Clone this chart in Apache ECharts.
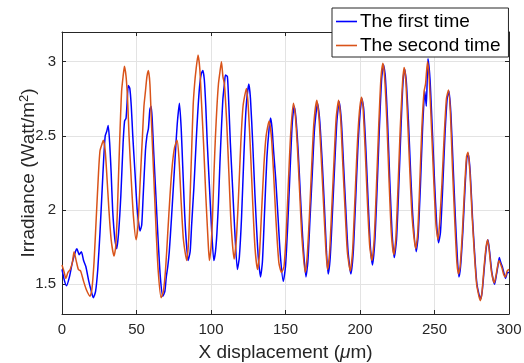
<!DOCTYPE html>
<html>
<head>
<meta charset="utf-8">
<script src="https://cdn.jsdelivr.net/npm/echarts@6/dist/echarts.min.js"></script>
<style>html,body{margin:0;padding:0;background:#fff}#c{width:524px;height:363px}</style>
</head>
<body>
<div id="c"></div>
<script>
const seriesNames = ['The first time', 'The second time'];
const xTicks = [0, 50, 100, 150, 200, 250, 300];
const yTicks = [1.5, 2, 2.5, 3];

const firstTime = [
[0,1.60],[1.5,1.53],[3,1.49],[5,1.55],[7,1.65],[9,1.72],[10,1.74],[11.5,1.70],[13,1.72],[14.5,1.66],[16,1.62],[18,1.52],[19.5,1.46],[21,1.41],[22.5,1.45],[24,1.60],[25.5,1.85],[27,2.15],[28,2.35],[29,2.50],[30,2.53],[31,2.57],[32,2.45],[33,2.25],[34,2.00],[35.5,1.80],[36.7,1.74],[38,1.85],[39.5,2.10],[41,2.45],[42,2.60],[43,2.62],[44,2.78],[44.5,2.84],[45.5,2.82],[46.5,2.70],[47.5,2.50],[49,2.25],[50.5,2.00],[52.4,1.86],[53.5,1.90],[54.5,2.10],[56,2.40],[57,2.50],[58,2.55],[59,2.68],[59.8,2.70],[60.5,2.62],[61.5,2.40],[63,2.10],[64.5,1.80],[66,1.55],[67.6,1.42],[69,1.45],[70,1.55],[71,1.62],[72,1.72],[73.5,1.95],[75,2.20],[76.5,2.45],[77.5,2.60],[78.8,2.72],[80,2.55],[81,2.30],[82,2.05],[83,1.85],[84.6,1.66],[86,1.72],[87,1.90],[88.5,2.15],[89.5,2.35],[90.5,2.55],[91.5,2.72],[92.5,2.85],[93.5,2.92],[94.5,2.94],[95.5,2.88],[96.5,2.70],[97.5,2.45],[99,2.15],[100.5,1.85],[101.9,1.66],[103,1.72],[104,1.85],[105,2.05],[106,2.32],[107,2.55],[108,2.75],[109,2.85],[109.7,2.91],[111,2.90],[112,2.70],[113,2.45],[114.5,2.15],[116,1.85],[117.7,1.60],[119,1.68],[120.5,1.95],[122,2.35],[123.5,2.68],[125.4,2.85],[126.5,2.75],[128,2.45],[129.5,2.10],[131,1.80],[132,1.65],[133.2,1.55],[134.5,1.65],[136,2.00],[137.5,2.35],[139,2.55],[140,2.62],[141,2.55],[142,2.40],[143.5,2.20],[145,1.95],[146.5,1.70],[148.5,1.52],
[150,1.62],[151.5,1.90],[153,2.25],[154.5,2.58],[155.8,2.70],[157,2.62],[158.5,2.40],[160,2.10],[161.5,1.82],[163.7,1.55],[165,1.65],[166.5,1.95],[168,2.25],[169.5,2.55],[171.5,2.72],[173,2.60],[174.5,2.35],[176,2.05],[177.5,1.72],[178.6,1.57],[180,1.68],[181.5,1.98],[183,2.30],[184.5,2.60],[186,2.73],[187.5,2.60],[189,2.30],[190.5,2.00],[192,1.72],[193.9,1.57],[195.5,1.72],[197,2.05],[198.5,2.40],[200,2.65],[201.3,2.75],[202.5,2.68],[204,2.40],[205.5,2.05],[207,1.75],[208.4,1.63],[210,1.80],[211.5,2.15],[213,2.55],[214.5,2.88],[215.8,2.98],[217,2.90],[218.5,2.60],[220,2.20],[221.5,1.85],[223,1.68],[224.5,1.80],[226,2.15],[227.5,2.55],[228.8,2.85],[229.9,2.95],[231,2.88],[232.5,2.60],[234,2.25],[235.5,1.95],[237.7,1.72],[239,1.82],[240.5,2.15],[242,2.55],[243.5,2.80],[244.5,2.70],[245.6,3.02],[247,2.88],[248.5,2.55],[250,2.20],[251.5,1.90],[252.7,1.78],[254,1.85],[255.5,2.15],[257,2.50],[258.5,2.75],[259.7,2.80],[261,2.65],[262.5,2.30],[264,1.95],[265.5,1.65],[266.4,1.55],[267.5,1.62],[269,1.85],[270.5,2.15],[271.7,2.35],[272.7,2.38],[274,2.25],[275.5,1.95],[277,1.70],[278.5,1.50],[280.9,1.40],[282,1.45],[283.5,1.62],[284.8,1.75],[285.9,1.80],[287,1.72],[288.5,1.58],[290.3,1.50],[291.5,1.56],[292.5,1.62],[293.5,1.68],[294.4,1.65],[295.5,1.62],[296.5,1.58],[297.7,1.54],[299,1.58],[300,1.58]
];

const secondTime = [
[0,1.63],[1.5,1.58],[2.5,1.54],[4,1.58],[5.5,1.60],[7,1.65],[8.1,1.72],[9.5,1.66],[11,1.60],[12.5,1.59],[14.5,1.52],[16.5,1.46],[18.8,1.42],[20,1.46],[21.5,1.65],[23,1.95],[24.5,2.25],[25.5,2.40],[27,2.45],[27.8,2.47],[29,2.40],[30,2.25],[31.5,2.00],[33,1.80],[34.9,1.69],[36,1.75],[37,1.95],[38,2.25],[39,2.55],[40,2.80],[41,2.90],[41.9,2.97],[43,2.90],[44,2.75],[45,2.50],[46.5,2.20],[48,1.95],[49.7,1.80],[51,1.90],[52.5,2.20],[54,2.50],[55,2.70],[56,2.80],[57,2.90],[58,2.94],[59,2.85],[60,2.60],[61.5,2.25],[63,1.90],[64.5,1.60],[66.5,1.41],[68,1.45],[69.5,1.60],[71,1.85],[72.5,2.10],[74,2.30],[75.5,2.42],[77.2,2.47],[78.5,2.35],[80,2.05],[81.5,1.80],[83.7,1.66],[85,1.80],[86,2.10],[87,2.40],[88,2.70],[89,2.85],[90,2.95],[91.3,3.045],[92.5,2.95],[93.5,2.75],[95,2.45],[96.5,2.10],[98,1.80],[98.9,1.66],[100,1.75],[101,1.95],[102,2.25],[103,2.50],[104,2.70],[105,2.85],[106,2.93],[107,3.00],[108,2.90],[109,2.85],[110.5,2.60],[112,2.25],[113.5,1.90],[115.5,1.67],[117,1.80],[118.5,2.10],[120,2.45],[121.5,2.70],[123.8,2.82],[125,2.70],[126.5,2.40],[128,2.05],[129.5,1.75],[131.2,1.60],[132.5,1.70],[134,2.00],[135.5,2.30],[137,2.50],[139,2.60],[140.5,2.50],[142,2.25],[143.5,1.95],[145.5,1.65],[147.3,1.58],
[149,1.62],[150.5,1.85],[152,2.20],[153.5,2.52],[155.3,2.72],[156.5,2.65],[158,2.42],[159.5,2.12],[161,1.82],[163.2,1.58],[164.5,1.68],[166,1.95],[167.5,2.28],[169,2.58],[171,2.74],[172.5,2.62],[174,2.35],[175.5,2.05],[177,1.75],[178.2,1.60],[179.5,1.70],[181,2.00],[182.5,2.32],[184,2.62],[185.6,2.74],[187,2.62],[188.5,2.30],[190,2.00],[191.5,1.72],[193.5,1.59],[195,1.72],[196.5,2.05],[198,2.40],[199.5,2.65],[201,2.76],[202,2.70],[203.5,2.40],[205,2.05],[206.5,1.76],[208,1.66],[209.5,1.80],[211,2.15],[212.5,2.55],[214,2.88],[215.4,2.99],[216.5,2.90],[218,2.60],[219.5,2.20],[221,1.85],[222.7,1.70],[224,1.80],[225.5,2.15],[227,2.55],[228.5,2.85],[229.6,2.96],[230.7,2.88],[232,2.60],[233.5,2.25],[235,1.95],[237.4,1.74],[238.7,1.84],[240,2.15],[241.5,2.55],[243,2.80],[244,2.85],[245.3,3.00],[246.5,2.88],[248,2.55],[249.5,2.20],[251,1.90],[252.4,1.80],[253.5,1.92],[255,2.18],[256.5,2.50],[258,2.75],[259.4,2.81],[260.7,2.65],[262,2.30],[263.5,1.95],[265,1.65],[266.1,1.57],[267.2,1.62],[268.7,1.85],[270.2,2.15],[271.5,2.36],[272.5,2.39],[273.8,2.25],[275.3,1.95],[276.8,1.70],[278.3,1.50],[280.7,1.39],[281.8,1.44],[283.3,1.62],[284.6,1.75],[285.7,1.80],[286.8,1.72],[288.3,1.58],[290.1,1.51],[291.3,1.56],[292.3,1.62],[293.3,1.66],[294.2,1.64],[295.3,1.61],[296.3,1.57],[297.5,1.55],[298.8,1.59],[300,1.60]
];

const FONT = "'Liberation Sans', Arial, sans-serif";
const AX = '#262626';
const GRIDC = '#e3e3e3';

const chart = echarts.init(document.getElementById('c'), null, {renderer: 'canvas'});
const xCommon = {type: 'value', min: 0, max: 300, interval: 50};
const yCommon = {type: 'value', min: 1.3, max: 3.2, splitNumber: 4};
chart.setOption({
  animation: false,
  backgroundColor: '#fff',
  grid: {left: 62, right: 15, top: 32, bottom: 49, containLabel: false, outerBoundsMode: 'none'},
  legend: {
    orient: 'vertical', left: 332, top: 8,
    data: seriesNames,
    icon: 'rect', itemWidth: 21, itemHeight: 1.6, itemGap: 5,
    backgroundColor: '#fff', borderColor: AX, borderWidth: 1,
    padding: [4, 8, 2, 4],
    textStyle: {fontFamily: FONT, fontSize: 19, color: '#000', padding: [0,0,0,-2]}
  },
  xAxis: [
    Object.assign({}, xCommon, {
      position: 'bottom',
      name: 'X displacement ({mu|μ}m)', nameLocation: 'middle', nameGap: 29, nameMoveOverlap: false,
      nameTextStyle: {fontFamily: FONT, fontSize: 19, color: AX, rich: {mu: {fontFamily: FONT, fontSize: 19, fontStyle: 'italic', color: AX}}},
      axisLine: {show: true, lineStyle: {color: AX, width: 1}},
      axisTick: {show: true, inside: true, length: 4, lineStyle: {color: AX}},
      axisLabel: {fontFamily: FONT, fontSize: 15, color: AX, margin: 8,
        formatter: v => xTicks.includes(v) ? String(v) : ''},
      splitLine: {show: true, lineStyle: {color: GRIDC, width: 1}}
    }),
    Object.assign({}, xCommon, {
      position: 'top',
      axisLine: {show: true, onZero: false, lineStyle: {color: AX, width: 1}},
      axisTick: {show: true, inside: true, length: 4, lineStyle: {color: AX}},
      axisLabel: {show: false}, splitLine: {show: false}
    })
  ],
  yAxis: [
    Object.assign({}, yCommon, {
      position: 'left',
      name: 'Irradiance (Watt/m{sup|2})', nameLocation: 'middle', nameGap: 22, nameMoveOverlap: false,
      nameTextStyle: {fontFamily: FONT, fontSize: 19, color: AX,
        rich: {sup: {fontFamily: FONT, fontSize: 13, color: AX, padding: [0, 0, 9, 0]}}},
      axisLine: {show: true, onZero: false, lineStyle: {color: AX, width: 1}},
      axisTick: {show: true, inside: true, length: 4, lineStyle: {color: AX}},
      axisLabel: {fontFamily: FONT, fontSize: 15, color: AX, margin: 6,
        showMinLabel: false, showMaxLabel: false,
        formatter: v => yTicks.some(t => Math.abs(t - v) < 1e-9) ? String(v) : ''},
      splitLine: {show: true, lineStyle: {color: GRIDC, width: 1}}
    }),
    Object.assign({}, yCommon, {
      position: 'right',
      axisLine: {show: true, onZero: false, lineStyle: {color: AX, width: 1}},
      axisTick: {show: true, inside: true, length: 4, lineStyle: {color: AX}},
      axisLabel: {show: false}, splitLine: {show: false}
    })
  ],
  series: [
    {name: seriesNames[0], type: 'line', data: firstTime, xAxisIndex: 0, yAxisIndex: 0,
     showSymbol: false, symbol: 'none', smooth: 0.2, color: '#0000ff',
     lineStyle: {color: '#0000ff', width: 1.5}},
    {name: seriesNames[1], type: 'line', data: secondTime, xAxisIndex: 0, yAxisIndex: 0,
     showSymbol: false, symbol: 'none', smooth: 0.2, color: '#d95319',
     lineStyle: {color: '#d95319', width: 1.5}}
  ]
});
</script>
</body>
</html>
